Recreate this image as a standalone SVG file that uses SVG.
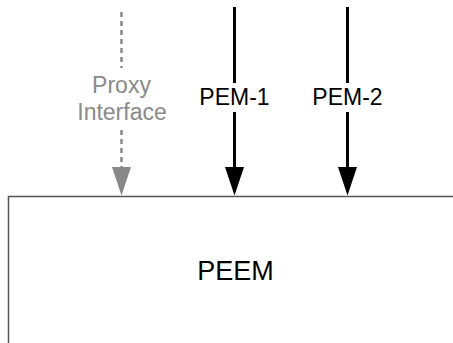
<svg xmlns="http://www.w3.org/2000/svg" width="453" height="343" viewBox="0 0 453 343">
  <style>
    text { font-family: "Liberation Sans", Arial, sans-serif; text-anchor: middle; }
    .lbl { font-size: 23px; fill: #000; }
    .proxy { font-size: 23px; fill: #8a8a8a; }
    .node { font-size: 27px; fill: #000; }
    .solid { stroke: #000; stroke-width: 3; fill: none; }
    .dashed { stroke: #888; stroke-width: 2.5; stroke-dasharray: 5 4; fill: none; }
  </style>
  <defs>
    <marker id="ahBlack" markerUnits="userSpaceOnUse" markerWidth="29" markerHeight="20" viewBox="0 0 29 20" refX="0" refY="10" orient="auto">
      <path d="M0,0.5 L28.5,10 L0,19.5 Z" fill="#000"/>
    </marker>
    <marker id="ahGray" markerUnits="userSpaceOnUse" markerWidth="29" markerHeight="20" viewBox="0 0 29 20" refX="0" refY="10" orient="auto">
      <path d="M0,0.5 L28.5,10 L0,19.5 Z" fill="#888"/>
    </marker>
  </defs>

  <g id="PEEM">
    <path d="M8.5,343 V196.5 H453" fill="none" stroke="#555" stroke-width="1.5"/>
    <text class="node" x="235.5" y="280">PEEM</text>
  </g>

  <g id="connectors">
    <g id="proxy-interface">
      <path class="dashed" d="M121.5,12 V68"/>
      <path class="dashed" d="M121.5,130 V167" marker-end="url(#ahGray)"/>
      <text class="proxy" x="121.5" y="92.5">Proxy</text>
      <text class="proxy" x="122" y="119.5">Interface</text>
    </g>
    <g id="pem-1">
      <path class="solid" d="M234.5,7 V83"/>
      <path class="solid" d="M234.5,112 V167" marker-end="url(#ahBlack)"/>
      <text class="lbl" x="234.5" y="104.5">PEM-1</text>
    </g>
    <g id="pem-2">
      <path class="solid" d="M347.5,7 V83"/>
      <path class="solid" d="M347.5,112 V167" marker-end="url(#ahBlack)"/>
      <text class="lbl" x="347.5" y="104.5">PEM-2</text>
    </g>
  </g>
</svg>
